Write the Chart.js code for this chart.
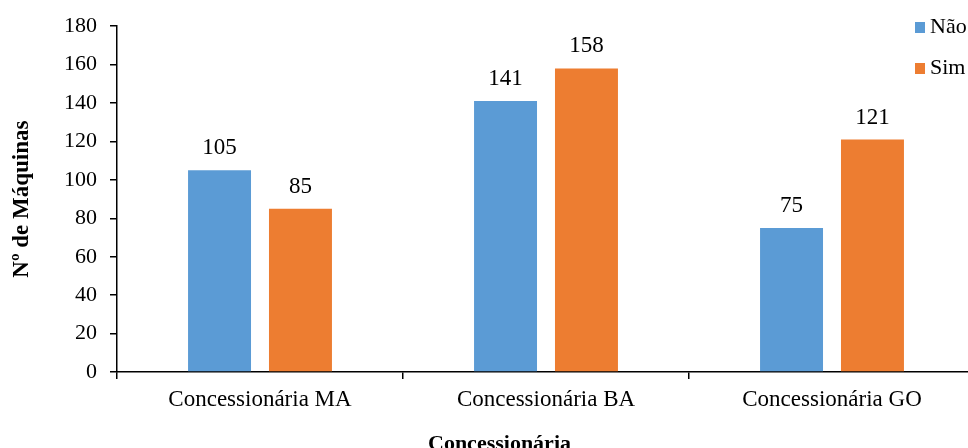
<!DOCTYPE html>
<html>
<head>
<meta charset="utf-8">
<script src="https://cdn.jsdelivr.net/npm/chart.js@4"></script>
<style>
  html, body { margin: 0; padding: 0; overflow: hidden; background: #fff; }
  #wrap { width: 1000px; height: 448px; }
</style>
</head>
<body>
<div id="wrap"><canvas id="myChart" width="1000" height="448"></canvas></div>
<script>
const categories = ['Concessionária MA', 'Concessionária BA', 'Concessionária GO'];
const naoValues = [105, 141, 75];
const simValues = [85, 158, 121];
const yTicks = [0, 20, 40, 60, 80, 100, 120, 140, 160, 180];

const serif = '"Liberation Serif", "Times New Roman", serif';

// value labels above each bar
const barLabels = {
  id: 'barLabels',
  afterDatasetsDraw(chart) {
    const ctx = chart.ctx;
    ctx.save();
    ctx.font = '23px ' + serif;
    ctx.fillStyle = '#000';
    ctx.textAlign = 'center';
    ctx.textBaseline = 'alphabetic';
    chart.data.datasets.forEach((ds, i) => {
      chart.getDatasetMeta(i).data.forEach((bar, j) => {
        ctx.fillText(ds.data[j], bar.x, bar.y - 16);
      });
    });
    ctx.restore();
  }
};

// legend over the top right corner + x axis title (off centre, like the original)
const extras = {
  id: 'extras',
  afterDraw(chart) {
    const ctx = chart.ctx;
    ctx.save();
    ctx.font = '22px ' + serif;
    ctx.textBaseline = 'middle';
    chart.data.datasets.forEach((ds, i) => {
      const y = 27 + i * 41;
      ctx.fillStyle = ds.backgroundColor;
      ctx.fillRect(915, y - 5, 10, 11);
      ctx.fillStyle = '#000';
      ctx.fillText(ds.label, 930, y);
    });
    ctx.font = 'bold 22px ' + serif;
    ctx.textBaseline = 'alphabetic';
    ctx.fillText('Concessionária', 428, 450);
    ctx.restore();
  }
};

const ctx = document.getElementById('myChart').getContext('2d');
const myChart = new Chart(ctx, {
  type: 'bar',
  data: {
    labels: categories,
    datasets: [
      { label: 'Não', data: naoValues, backgroundColor: '#5B9BD5', categoryPercentage: 0.566, barPercentage: 0.778 },
      { label: 'Sim', data: simValues, backgroundColor: '#ED7D31', categoryPercentage: 0.566, barPercentage: 0.778 }
    ]
  },
  options: {
    responsive: false,
    animation: false,
    layout: { padding: { top: 24, right: 25, left: 0, bottom: 0 } },
    plugins: { legend: { display: false }, tooltip: { enabled: false } },
    scales: {
      x: {
        border: { color: '#000', width: 1.5 },
        grid: { display: true, drawOnChartArea: false, color: '#000', tickLength: 7, lineWidth: 1.5 },
        ticks: { color: '#000', font: { family: serif, size: 23 }, padding: 7 },
        afterFit(scale) { scale.height = 76; }
      },
      y: {
        min: 0,
        max: 180,
        afterBuildTicks(scale) { scale.ticks = yTicks.map(v => ({ value: v })); },
        border: { color: '#000', width: 1.5 },
        grid: { display: true, drawOnChartArea: false, color: '#000', tickLength: 7, lineWidth: 1.5 },
        ticks: { color: '#000', font: { family: serif, size: 22 }, padding: 13 },
        title: { display: true, text: 'Nº de Máquinas', color: '#000', font: { family: serif, size: 23, weight: 'bold' }, padding: { top: 8 } },
        afterFit(scale) { scale.width = 117; }
      }
    }
  },
  plugins: [barLabels, extras]
});
</script>
</body>
</html>
